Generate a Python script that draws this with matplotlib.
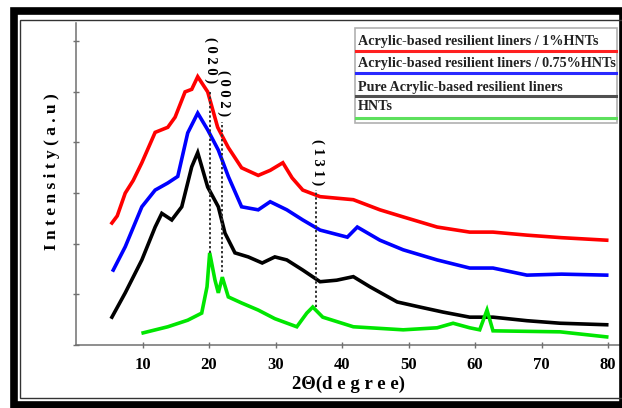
import numpy as np
import matplotlib.pyplot as plt
from matplotlib.lines import Line2D
from matplotlib.patches import Rectangle

plt.rcParams['font.family'] = ['Liberation Serif', 'DejaVu Serif']
plt.rcParams['font.weight'] = 'bold'

# XRD patterns (2theta, intensity in arbitrary units)
x_red = [5.4, 6.2, 7.4, 8.6, 9.9, 11.9, 13.8, 14.9, 16.4, 17.4, 18.3, 19.8, 21.3, 22.9, 24.9, 27.4,
         29.2, 31.1, 32.5, 34.1, 36.7, 41.7, 45.7, 49.2, 54.3, 59.2, 62.7, 67.8, 73.0, 79.8]
y_red = [2.41, 2.55, 3.0, 3.25, 3.6, 4.2, 4.3, 4.5, 5.0, 5.05, 5.3, 5.0, 4.3, 3.9, 3.5, 3.35,
         3.45, 3.6, 3.3, 3.06, 2.93, 2.87, 2.67, 2.53, 2.33, 2.23, 2.23, 2.17, 2.12, 2.07]

x_blue = [5.6, 7.4, 9.9, 11.9, 13.8, 15.3, 16.8, 18.3, 19.8, 21.4, 22.9, 24.9, 27.4, 29.2, 31.7,
          34.1, 36.7, 40.8, 42.3, 45.7, 49.2, 54.3, 59.2, 62.7, 67.8, 73.0, 79.8]
y_blue = [1.48, 1.94, 2.73, 3.06, 3.2, 3.33, 4.19, 4.58, 4.25, 3.85, 3.33, 2.73, 2.67, 2.83, 2.67,
          2.47, 2.27, 2.13, 2.33, 2.07, 1.88, 1.68, 1.52, 1.52, 1.38, 1.40, 1.38]

x_black = [5.4, 7.4, 9.9, 11.9, 12.9, 14.4, 15.9, 17.4, 18.3, 19.8, 21.4, 22.4, 23.9, 25.9, 28.0,
           29.9, 31.7, 34.1, 36.7, 39.2, 41.7, 44.2, 48.3, 51.7, 55.2, 59.2, 62.7, 67.8, 72.8, 79.8]
y_black = [0.55, 1.03, 1.68, 2.33, 2.6, 2.47, 2.73, 3.52, 3.8, 3.12, 2.73, 2.21, 1.82, 1.74, 1.62,
           1.74, 1.68, 1.48, 1.25, 1.28, 1.35, 1.15, 0.85, 0.75, 0.65, 0.55, 0.55, 0.48, 0.43, 0.40]

x_green = [10.1, 13.8, 16.8, 18.9, 19.7, 20.1, 20.9, 21.4, 22.0, 22.9, 24.9, 27.4, 29.9, 33.2,
           34.7, 35.6, 37.1, 41.7, 49.2, 54.3, 56.7, 59.2, 60.7, 61.8, 62.7, 67.8, 72.8, 79.8]
y_green = [0.24, 0.36, 0.49, 0.63, 1.15, 1.82, 1.28, 1.03, 1.34, 0.95, 0.83, 0.69, 0.52, 0.36,
           0.63, 0.75, 0.55, 0.36, 0.30, 0.34, 0.43, 0.34, 0.30, 0.69, 0.28, 0.27, 0.26, 0.16]

labels = ['Acrylic-based resilient liners / 1%HNTs',
          'Acrylic-based resilient liners / 0.75%HNTs',
          'Pure Acrylic-based resilient liners',
          'HNTs']
line_colors = ['#ff0000', '#0000ff', '#000000', '#00e600']
legend_colors = ['#ff2020', '#2a2aff', '#505050', '#5de05d']

# peak markers: label, x of the dotted line, top and bottom of the line
peaks = ['( 0 2 0 )', '( 0 0 2 )', '( 1 3 1 )']
peak_x = [20.1, 22.0, 36.1]
peak_top = [5.04, 4.41, 3.06]
peak_bottom = [1.82, 1.45, 0.75]
peak_label_y = [5.63, 4.98, 3.62]

fig = plt.figure(figsize=(6.22, 4.08), dpi=100)
ax = fig.add_axes([0.1222, 0.1544, 0.8746, 0.7892])

series = [(x_red, y_red), (x_blue, y_blue), (x_black, y_black), (x_green, y_green)]
for (xs, ys), c in zip(series, line_colors):
    ax.plot(xs, ys, color=c, lw=2.6, solid_joinstyle='miter')

for lab, px, top, bot, ly in zip(peaks, peak_x, peak_top, peak_bottom, peak_label_y):
    ax.plot([px, px], [bot, top], ls=(0, (1.2, 1.2)), color='#333333', lw=1.4)
    ax.text(px + 0.2, ly, lab, rotation=-90, ha='center', va='center',
            fontsize=10.5, fontweight='bold')

ax.set_xlim(0, 81.8)
ax.set_ylim(0, 6.36)
ax.set_xticks([10, 20, 30, 40, 50, 60, 70, 80])
ax.set_yticks([0, 1, 2, 3, 4, 5, 6])
ax.set_yticklabels([])
ax.tick_params(direction='inout', length=5, width=1, color='#707070')
ax.tick_params(axis='x', labelsize=12, pad=6)
for s in ['top', 'right']:
    ax.spines[s].set_visible(False)
for s in ['left', 'bottom']:
    ax.spines[s].set_color('#707070')
    ax.spines[s].set_linewidth(1.1)

ax.set_xlabel('2\u0398(d e g r e e)', fontsize=13.5, fontweight='bold', labelpad=2)
fig.text(52 / 622, 1 - 172 / 408, 'I n t e n s i t y ( a . u )', rotation=90,
         ha='center', va='center', fontsize=12.5, fontweight='bold')

# legend box drawn in pixel-like figure coordinates
W, H = 622, 408
fig.patches.append(Rectangle((355 / W, 1 - 123 / H), 262 / W, 95 / H, transform=fig.transFigure,
                             fill=True, facecolor='white', edgecolor='#b0b0b0', lw=1.2, zorder=5))
text_y = [42, 64, 87, 107]
line_y = [51, 73, 96, 118]
for lab, c, ty, ly in zip(labels, legend_colors, text_y, line_y):
    fig.text(358 / W, 1 - ty / H, lab, ha='left', va='center', fontsize=10.2,
             fontweight='bold', color='#222222', zorder=6)
    fig.add_artist(Line2D([356 / W, 616 / W], [1 - ly / H, 1 - ly / H], color=c,
                          lw=2.2, transform=fig.transFigure, zorder=6))

# outer black frame with thin inner line
fig.patches.append(Rectangle((13.5 / W, 1 - 404.5 / H), 609 / W, 393.5 / H, transform=fig.transFigure,
                             fill=False, edgecolor='black', lw=5.5, zorder=10))
fig.patches.append(Rectangle((20 / W, 1 - 398 / H), 603 / W, 378 / H, transform=fig.transFigure,
                             fill=False, edgecolor='#333333', lw=1.0, zorder=10))

fig.savefig('out.png', dpi=100)
